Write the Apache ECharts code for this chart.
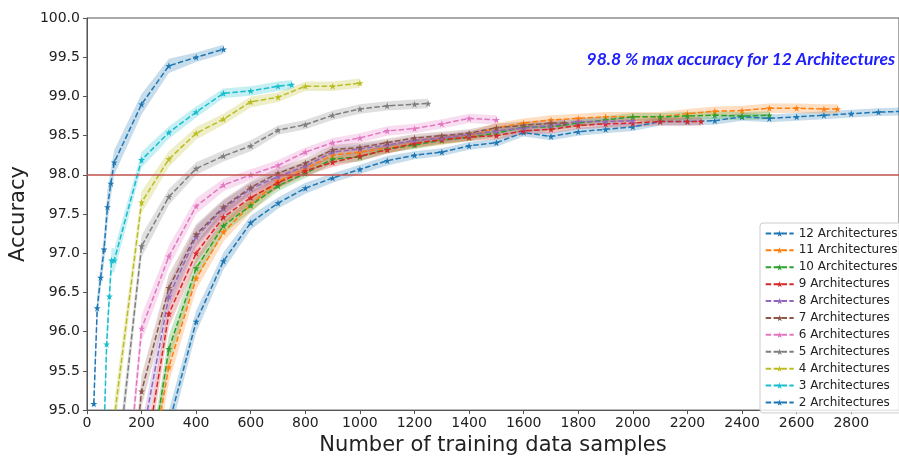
<!DOCTYPE html>
<html>
<head>
<meta charset="utf-8">
<script src="https://cdn.jsdelivr.net/npm/echarts@6/dist/echarts.min.js"></script>
<style>
  html, body { margin: 0; padding: 0; background: #fff; }
  #chart { width: 899px; height: 461px; }
</style>
</head>
<body>
<div id="chart"></div>
<script>
// Accuracy vs. training-set size, one curve per architecture count,
// each with a shaded spread band.

const seriesNames = ['12 Architectures', '11 Architectures', '10 Architectures', '9 Architectures',
  '8 Architectures', '7 Architectures', '6 Architectures', '5 Architectures',
  '4 Architectures', '3 Architectures', '2 Architectures'];

const xA12 = [300, 400, 500, 600, 700, 800, 900, 1000, 1100, 1200, 1300, 1400, 1500, 1600, 1700, 1800, 1900, 2000, 2100, 2200, 2300, 2400, 2500, 2600, 2700, 2800, 2900, 3000];
const yA12 = [94.82, 96.13, 96.90, 97.39, 97.64, 97.83, 97.96, 98.07, 98.18, 98.25, 98.29, 98.37, 98.41, 98.54, 98.49, 98.55, 98.58, 98.61, 98.68, 98.68, 98.69, 98.74, 98.72, 98.74, 98.76, 98.78, 98.80, 98.81];
const sA12 = [0.18, 0.14, 0.11, 0.09, 0.07, 0.07, 0.06, 0.06, 0.06, 0.05, 0.05, 0.05, 0.05, 0.05, 0.05, 0.05, 0.05, 0.05, 0.05, 0.05, 0.05, 0.05, 0.05, 0.05, 0.05, 0.05, 0.05, 0.05];

const xA11 = [200, 300, 400, 500, 600, 700, 800, 900, 1000, 1100, 1200, 1300, 1400, 1500, 1600, 1700, 1800, 1900, 2000, 2100, 2200, 2300, 2400, 2500, 2600, 2700, 2750];
const yA11 = [93.6, 95.55, 96.68, 97.27, 97.62, 97.92, 98.08, 98.25, 98.29, 98.34, 98.40, 98.44, 98.49, 98.60, 98.66, 98.70, 98.72, 98.74, 98.74, 98.74, 98.78, 98.81, 98.82, 98.85, 98.85, 98.84, 98.84];
const sA11 = [0.22, 0.2, 0.15, 0.12, 0.1, 0.08, 0.07, 0.07, 0.06, 0.06, 0.06, 0.06, 0.06, 0.06, 0.06, 0.06, 0.06, 0.06, 0.06, 0.06, 0.06, 0.06, 0.06, 0.06, 0.06, 0.06, 0.06];

const xA10 = [200, 300, 400, 500, 600, 700, 800, 900, 1000, 1100, 1200, 1300, 1400, 1500, 1600, 1700, 1800, 1900, 2000, 2100, 2200, 2300, 2400, 2500];
const yA10 = [93.6, 95.78, 96.81, 97.35, 97.61, 97.86, 98.02, 98.20, 98.23, 98.33, 98.38, 98.44, 98.48, 98.53, 98.61, 98.61, 98.66, 98.70, 98.74, 98.74, 98.75, 98.76, 98.75, 98.76];
const sA10 = [0.2, 0.17, 0.13, 0.1, 0.08, 0.07, 0.06, 0.06, 0.06, 0.05, 0.05, 0.05, 0.05, 0.05, 0.05, 0.05, 0.05, 0.05, 0.05, 0.05, 0.05, 0.05, 0.05, 0.05];

const xA9 = [200, 300, 400, 500, 600, 700, 800, 900, 1000, 1100, 1200, 1300, 1400, 1500, 1600, 1700, 1800, 1900, 2000, 2100, 2200, 2250];
const yA9 = [94.1, 96.23, 97.00, 97.46, 97.71, 97.90, 98.05, 98.16, 98.24, 98.32, 98.40, 98.45, 98.48, 98.50, 98.56, 98.58, 98.63, 98.65, 98.66, 98.68, 98.68, 98.68];
const sA9 = [0.2, 0.17, 0.13, 0.1, 0.08, 0.07, 0.06, 0.06, 0.06, 0.05, 0.05, 0.05, 0.05, 0.05, 0.05, 0.05, 0.05, 0.05, 0.05, 0.05, 0.05, 0.05];

const xA8 = [200, 300, 400, 500, 600, 700, 800, 900, 1000, 1100, 1200, 1300, 1400, 1500, 1600, 1700, 1800, 1900, 2000];
const yA8 = [94.6, 96.45, 97.21, 97.57, 97.82, 97.98, 98.11, 98.29, 98.33, 98.38, 98.44, 98.47, 98.51, 98.56, 98.60, 98.63, 98.68, 98.68, 98.69];
const sA8 = [0.2, 0.17, 0.13, 0.1, 0.08, 0.07, 0.06, 0.06, 0.06, 0.05, 0.05, 0.05, 0.05, 0.05, 0.05, 0.05, 0.05, 0.05, 0.05];

const xA7 = [100, 200, 300, 400, 500, 600, 700, 800, 900, 1000, 1100, 1200, 1300, 1400, 1500, 1600, 1700, 1750];
const yA7 = [91.8, 95.24, 96.56, 97.24, 97.59, 97.84, 98.02, 98.15, 98.32, 98.35, 98.41, 98.47, 98.50, 98.53, 98.60, 98.63, 98.66, 98.66];
const sA7 = [0.22, 0.2, 0.17, 0.13, 0.1, 0.08, 0.07, 0.06, 0.06, 0.06, 0.05, 0.05, 0.05, 0.05, 0.05, 0.05, 0.05, 0.05];

const xA6 = [100, 200, 300, 400, 500, 600, 700, 800, 900, 1000, 1100, 1200, 1300, 1400, 1500];
const yA6 = [92.2, 96.04, 96.96, 97.60, 97.87, 98.00, 98.12, 98.29, 98.41, 98.47, 98.56, 98.59, 98.65, 98.72, 98.70];
const sA6 = [0.22, 0.17, 0.14, 0.1, 0.08, 0.07, 0.07, 0.06, 0.06, 0.06, 0.06, 0.06, 0.06, 0.06, 0.06];

const xA5 = [100, 200, 300, 400, 500, 600, 700, 800, 900, 1000, 1100, 1200, 1250];
const yA5 = [93.9, 97.09, 97.72, 98.08, 98.24, 98.37, 98.57, 98.64, 98.76, 98.84, 98.88, 98.90, 98.91];
const sA5 = [0.22, 0.14, 0.1, 0.08, 0.07, 0.07, 0.06, 0.06, 0.06, 0.06, 0.06, 0.06, 0.06];

const xA4 = [100, 200, 300, 400, 500, 600, 700, 800, 900, 1000];
const yA4 = [94.9, 97.65, 98.20, 98.53, 98.71, 98.93, 98.99, 99.13, 99.13, 99.17];
const sA4 = [0.22, 0.14, 0.1, 0.08, 0.07, 0.07, 0.06, 0.06, 0.06, 0.06];

const xA3 = [60, 72, 82, 90, 100, 200, 300, 400, 500, 600, 700, 750];
const yA3 = [94.4, 95.84, 96.45, 96.91, 96.91, 98.19, 98.54, 98.80, 99.04, 99.07, 99.13, 99.15];
const sA3 = [0.22, 0.2, 0.18, 0.16, 0.15, 0.1, 0.08, 0.07, 0.06, 0.06, 0.06, 0.06];

const xA2 = [25, 37.5, 50, 62.5, 75, 87.5, 100, 200, 300, 400, 500];
const yA2 = [95.08, 96.30, 96.69, 97.05, 97.59, 97.89, 98.16, 98.90, 99.39, 99.50, 99.60];
const sA2 = [0.16, 0.16, 0.16, 0.18, 0.22, 0.18, 0.16, 0.13, 0.09, 0.06, 0.06];

const xTicks = { min: 0, max: 2975, step: 200 };
const yTicks = { min: 95, max: 100, step: 0.5 };
const thresholdAccuracy = 98.0;
const noteText = '98.8 % max accuracy for 12 Architectures';

const palette = ['#1f77b4', '#ff7f0e', '#2ca02c', '#d62728', '#9467bd', '#8c564b',
  '#e377c2', '#7f7f7f', '#bcbd22', '#17becf', '#1f77b4'];

const curves = [
  [xA12, yA12, sA12], [xA11, yA11, sA11], [xA10, yA10, sA10], [xA9, yA9, sA9],
  [xA8, yA8, sA8], [xA7, yA7, sA7], [xA6, yA6, sA6], [xA5, yA5, sA5],
  [xA4, yA4, sA4], [xA3, yA3, sA3], [xA2, yA2, sA2]
];

const starPath = 'path://M50,0 L61.2,34.5 L97.6,34.5 L68.2,55.9 L79.4,90.5 L50,69.1 L20.6,90.5 L31.8,55.9 L2.4,34.5 L38.8,34.5 Z';

function hexToRgba(hex, a) {
  const n = parseInt(hex.slice(1), 16);
  return 'rgba(' + ((n >> 16) & 255) + ',' + ((n >> 8) & 255) + ',' + (n & 255) + ',' + a + ')';
}

// Spread band: one polygon (upper edge forward, lower edge back) per curve
function bandRenderer(xs, ys, ss, fill) {
  return function (params, api) {
    if (params.dataIndex !== 0) return null;
    const pts = [];
    for (let k = 0; k < xs.length; k++) pts.push(api.coord([xs[k], ys[k] + ss[k]]));
    for (let k = xs.length - 1; k >= 0; k--) pts.push(api.coord([xs[k], ys[k] - ss[k]]));
    const cs = params.coordSys;
    return {
      type: 'group',
      children: [{
        type: 'polygon',
        shape: { points: pts },
        style: { fill: fill, stroke: 'none' }
      }],
      clipPath: {
        type: 'rect',
        shape: { x: cs.x, y: cs.y, width: cs.width, height: cs.height }
      }
    };
  };
}

const series = [];
curves.forEach(function (c, i) {
  const xs = c[0], ys = c[1], ss = c[2];
  const color = palette[i];
  series.push({
    type: 'custom', name: '_band' + i, silent: true,
    renderItem: bandRenderer(xs, ys, ss, hexToRgba(color, 0.25)),
    data: xs.map(function (x, k) { return [x, ys[k]]; }),
    encode: { x: 0, y: 1 },
    z: 2
  });
  series.push({
    type: 'line', name: seriesNames[i],
    symbol: starPath, symbolSize: 7, showSymbol: true,
    itemStyle: { color: color },
    lineStyle: { color: color, width: 1.5, type: [5.5, 2.4] },
    data: xs.map(function (x, k) { return [x, ys[k]]; }),
    z: 3
  });
});

// 98 % reference line
series.push({
  type: 'line', name: '_threshold', data: [], silent: true,
  markLine: {
    silent: true, symbol: ['none', 'none'], label: { show: false },
    lineStyle: { color: '#c0504d', width: 1.5, type: 'solid' },
    data: [{ yAxis: thresholdAccuracy }]
  },
  z: 4
});

const chart = echarts.init(document.getElementById('chart'), null, { renderer: 'canvas' });
chart.setOption({
  animation: false,
  backgroundColor: '#ffffff',
  grid: {
    left: 82.7, top: 18, right: -2, bottom: 41.5,
    show: true, borderColor: '#555', borderWidth: 1, backgroundColor: 'transparent'
  },
  xAxis: {
    type: 'value', min: xTicks.min, max: xTicks.max, interval: xTicks.step,
    name: 'Number of training data samples', nameLocation: 'middle', nameGap: 22,
    nameTextStyle: { fontFamily: 'DejaVu Sans', fontSize: 21, color: '#222' },
    axisLine: { show: true, lineStyle: { color: '#555', width: 1 } },
    axisTick: { show: true, length: 4, lineStyle: { color: '#555' } },
    axisLabel: {
      fontFamily: 'DejaVu Sans', fontSize: 14, color: '#222', margin: 6, showMaxLabel: false,
      formatter: function (v) { return String(v); }
    },
    splitLine: { show: false }
  },
  yAxis: {
    type: 'value', min: yTicks.min, max: yTicks.max, interval: yTicks.step,
    name: 'Accuracy', nameLocation: 'middle', nameGap: 50, nameRotate: 90,
    nameTextStyle: { fontFamily: 'DejaVu Sans', fontSize: 21, color: '#222' },
    axisLine: { show: true, lineStyle: { color: '#555', width: 1 } },
    axisTick: { show: true, length: 4, lineStyle: { color: '#555' } },
    axisLabel: {
      fontFamily: 'DejaVu Sans', fontSize: 14, color: '#222', margin: 7,
      formatter: function (v) { return v.toFixed(1); }
    },
    splitLine: { show: false }
  },
  legend: {
    data: seriesNames, orient: 'vertical',
    left: 760, top: 223,
    padding: [2, 10, 2, 4.7],
    itemWidth: 28, itemHeight: 8, itemGap: 0,
    backgroundColor: 'rgba(255,255,255,0.85)',
    borderColor: '#cccccc', borderWidth: 1, borderRadius: 3,
    textStyle: { fontFamily: 'DejaVu Sans', fontSize: 12, color: '#222', lineHeight: 16.9 }
  },
  graphic: [{
    type: 'text', right: 4, top: 50,
    style: {
      text: noteText, fill: '#2020ff',
      font: 'italic bold 17.5px Lato'
    },
    z: 10
  }],
  series: series
});
</script>
</body>
</html>
